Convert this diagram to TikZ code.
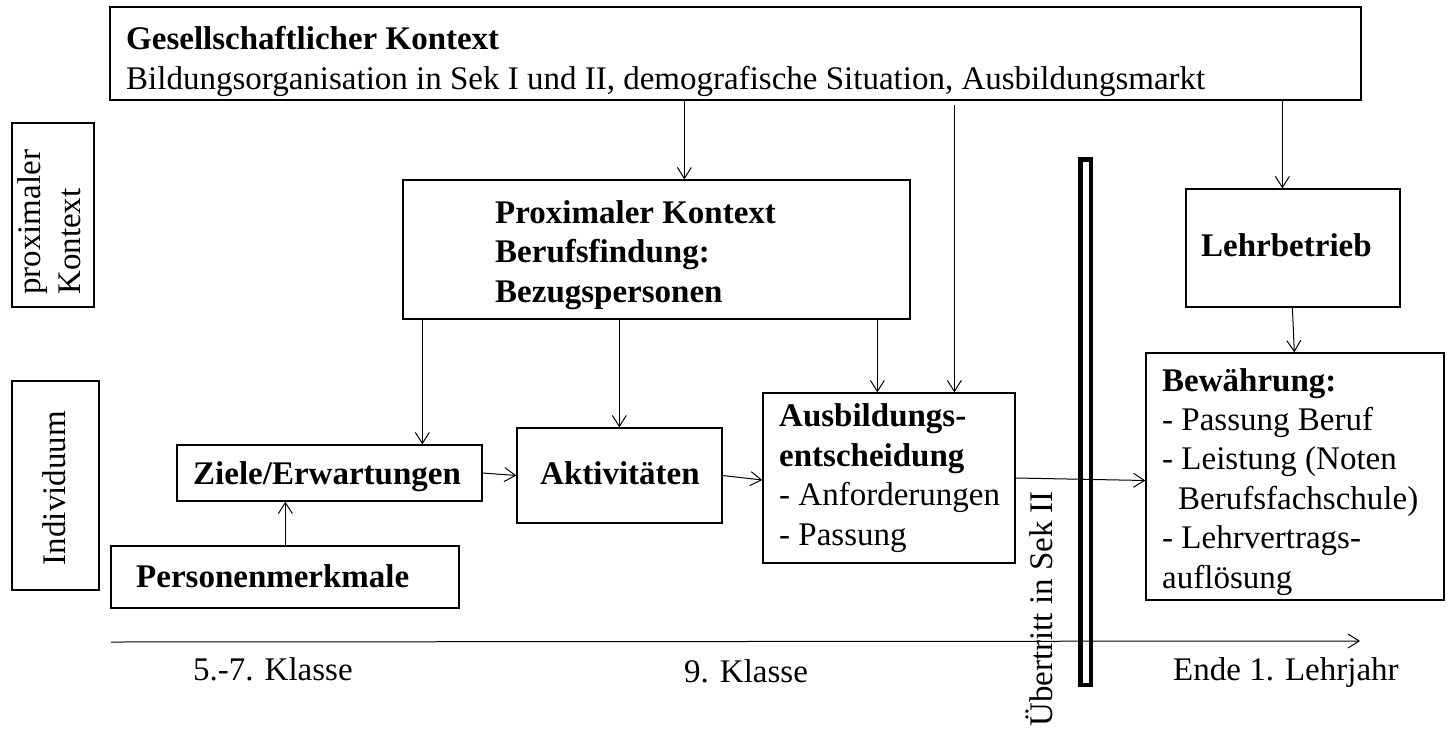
\documentclass[tikz,border=0pt]{standalone}
\usepackage{fontspec}
\setmainfont{Liberation Serif}
\usetikzlibrary{arrows.meta}
\begin{document}
\begin{tikzpicture}[x=1pt,y=-1pt,
  box/.style={draw,line width=1.3pt,inner sep=0pt,rectangle},
  txt/.style={inner sep=0pt,anchor=base west,align=left,font=\fontsize{33}{39.4}\selectfont},
  arr/.style={line width=1pt,-{Straight Barb[length=11pt,width=14pt,line width=1pt]}}]
\useasboundingbox (0,0) rectangle (1447,728);

% boxes
\node[box,minimum width=1251pt,minimum height=93pt] (top) at (735.5,53.5) {};
\node[box,minimum width=82pt,minimum height=184pt] (pk) at (53,215) {};
\node[box,minimum width=87pt,minimum height=209pt] (ind) at (55.5,485.5) {};
\node[box,minimum width=507pt,minimum height=139pt] (prox) at (656.5,249.5) {};
\node[box,minimum width=214pt,minimum height=118pt] (lehr) at (1293,248) {};
\node[box,minimum width=298pt,minimum height=247pt] (bew) at (1295,476.5) {};
\node[box,minimum width=252pt,minimum height=170pt] (ausb) at (889,478) {};
\node[box,minimum width=205pt,minimum height=95pt] (aktiv) at (619.5,475.5) {};
\node[box,minimum width=305pt,minimum height=56pt] (ziele) at (329.5,473) {};
\node[box,minimum width=348pt,minimum height=62pt] (pers) at (285,577) {};
\node[draw,line width=4.5pt,inner sep=0pt,minimum width=10.5pt,minimum height=525.5pt] (bar) at (1085.5,422) {};

% texts (base anchor = baseline of the last line)
\node[txt] (top-t) at (126,89) {\textbf{Gesellschaftlicher Kontext}\\Bildungsorganisation in Sek I und II, demografische Situation, Ausbildungsmarkt};
\node[txt,rotate=90] (pk-t) at (80,295) {proximaler\\Kontext};
\node[txt,rotate=90,anchor=base] (ind-t) at (65,488) {Individuum};
\node[txt] (prox-t) at (495,302) {\textbf{Proximaler Kontext}\\\textbf{Berufsfindung:}\\\textbf{Bezugspersonen}};
\node[txt] (lehr-t) at (1201,256) {\textbf{Lehrbetrieb}};
\node[txt] (bew-t) at (1162,588) {\textbf{Bewährung:}\\- Passung Beruf\\- Leistung (Noten\\\hspace*{16pt}Berufsfachschule)\\- Lehrvertrags-\\auflösung};
\node[txt] (ausb-t) at (779,545) {\textbf{Ausbildungs-}\\\textbf{entscheidung}\\- Anforderungen\\- Passung};
\node[txt] (aktiv-t) at (540,484) {\textbf{Aktivitäten}};
\node[txt] (ziele-t) at (193,484) {\textbf{Ziele/Erwartungen}};
\node[txt] (pers-t) at (136,587) {\textbf{Personenmerkmale}};
\node[txt,rotate=90] (ueb-t) at (1052,727) {Übertritt in Sek II};
\node[txt] (k57) at (193,680) {5.-7. Klasse};
\node[txt] (k9) at (684,682) {9. Klasse};
\node[txt] (ende) at (1173,680) {Ende 1. Lehrjahr};

% timeline
\coordinate (tl0) at (111,642);
\coordinate (tl1) at (1360,641);
\draw[arr] (tl0) -- (tl1);

% connectors
\draw[arr] ([xshift=575pt]top.south west) -- ([xshift=282pt]prox.north west);
\draw[arr] ([xshift=845pt,yshift=-4pt]top.south west) -- ([xshift=192pt]ausb.north west);
\draw[arr] ([xshift=1173pt]top.south west) -- ([xshift=97pt]lehr.north west);
\draw[arr] ([xshift=20pt]prox.south west) -- ([xshift=246pt]ziele.north west);
\draw[arr] ([xshift=217pt]prox.south west) -- ([xshift=103pt]aktiv.north west);
\draw[arr] ([xshift=475pt]prox.south west) -- ([xshift=115pt]ausb.north west);
\draw[arr] ([xshift=107pt]lehr.south west) -- ([xshift=149pt]bew.north west);
\draw[arr] ([xshift=175pt]pers.north west) -- ([xshift=109pt]ziele.south west);
\draw[arr] (ziele.east) -- (aktiv.west);
\draw[arr] (aktiv.east) -- ([yshift=-2pt]ausb.west);
\draw[arr] ([yshift=0pt]ausb.east) -- ([yshift=-4pt]bew.west);
\end{tikzpicture}
\end{document}
